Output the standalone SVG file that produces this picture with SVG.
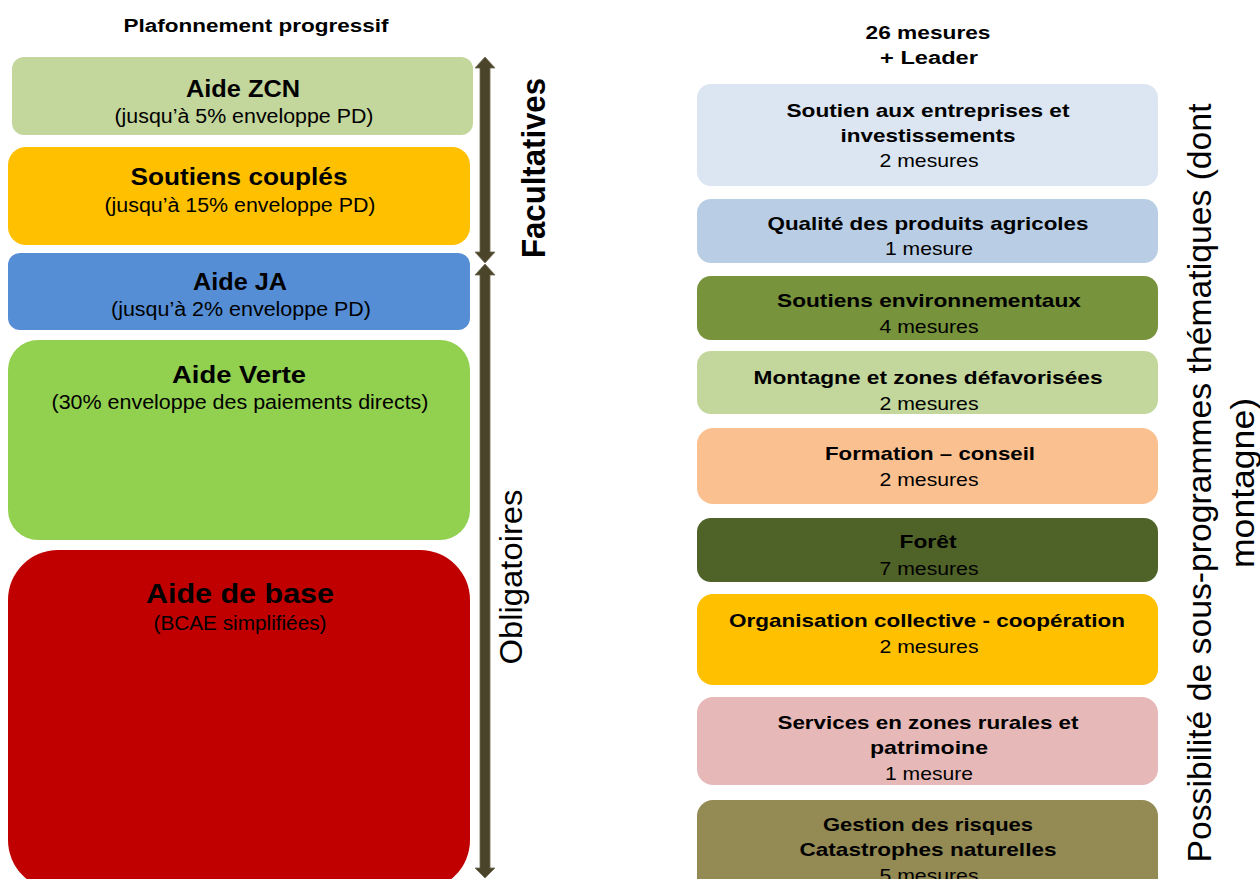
<svg xmlns="http://www.w3.org/2000/svg" width="1260" height="879" viewBox="0 0 1260 879">
<style>
text{font-family:"Liberation Sans",Arial,sans-serif;fill:#000;text-anchor:middle}
.t{font-weight:bold;font-size:24px}
.s{font-size:20px}
.h{font-weight:bold;font-size:18px}
.rt{font-weight:bold;font-size:19px}
.rs{font-size:19px}
.arrow{fill:#4A452A;stroke:#6E6A52;stroke-width:0.8}
</style>
<rect width="1260" height="879" fill="#fff"/>
<g id="headers">
<text class="h" x="256" y="32" textLength="265" lengthAdjust="spacingAndGlyphs">Plafonnement progressif</text>
<text class="h" x="928" y="39" textLength="125" lengthAdjust="spacingAndGlyphs">26 mesures</text>
<text class="h" x="929" y="64" textLength="98" lengthAdjust="spacingAndGlyphs">+ Leader</text>
</g>
<g id="aide-zcn">
<rect x="12" y="57" width="461" height="78" rx="12" fill="#C3D69B"/>
<text class="t" x="243" y="97" textLength="114" lengthAdjust="spacingAndGlyphs">Aide ZCN</text>
<text class="s" x="244" y="123" textLength="259" lengthAdjust="spacingAndGlyphs">(jusqu’à 5% enveloppe PD)</text>
</g>
<g id="soutiens-couples">
<rect x="8" y="147" width="462" height="98" rx="18" fill="#FFC000"/>
<text class="t" x="239" y="185" textLength="217" lengthAdjust="spacingAndGlyphs">Soutiens couplés</text>
<text class="s" x="240" y="212" textLength="271" lengthAdjust="spacingAndGlyphs">(jusqu’à 15% enveloppe PD)</text>
</g>
<g id="aide-ja">
<rect x="8" y="253" width="462" height="77" rx="12" fill="#558ED5"/>
<text class="t" x="240" y="290" textLength="94" lengthAdjust="spacingAndGlyphs">Aide JA</text>
<text class="s" x="241" y="316" textLength="260" lengthAdjust="spacingAndGlyphs">(jusqu’à 2% enveloppe PD)</text>
</g>
<g id="aide-verte">
<rect x="8" y="340" width="462" height="200" rx="30" fill="#92D050"/>
<text class="t" x="239" y="383" textLength="134" lengthAdjust="spacingAndGlyphs">Aide Verte</text>
<text class="s" x="240" y="409" textLength="377" lengthAdjust="spacingAndGlyphs">(30% enveloppe des paiements directs)</text>
</g>
<g id="aide-de-base">
<rect x="8" y="550" width="462" height="340" rx="50" fill="#C00000"/>
<text class="t" x="240" y="603" style="font-size:27px" textLength="188" lengthAdjust="spacingAndGlyphs">Aide de base</text>
<text class="s" x="240" y="630" textLength="173" lengthAdjust="spacingAndGlyphs">(BCAE simplifiées)</text>
</g>
<g id="connectors">
<path class="arrow" d="M485,57 L495,68 L490,68 L490,252 L495,252 L485,263 L475,252 L480,252 L480,68 L475,68 Z"/>
<path class="arrow" d="M485,264 L495,275 L490,275 L490,868 L495,868 L485,878 L475,868 L480,868 L480,275 L475,275 Z"/>
</g>
<g id="label-facultatives">
<text transform="translate(545,168) rotate(-90)" style="font-weight:bold;font-size:34px" textLength="180" lengthAdjust="spacingAndGlyphs">Facultatives</text>
</g>
<g id="label-obligatoires">
<text transform="translate(522,577) rotate(-90)" style="font-size:31px" textLength="175" lengthAdjust="spacingAndGlyphs">Obligatoires</text>
</g>
<g id="r1">
<rect x="697" y="84" width="461" height="102" rx="14" fill="#DCE6F2"/>
<text class="rt" x="928" y="117" textLength="283" lengthAdjust="spacingAndGlyphs">Soutien aux entreprises et</text>
<text class="rt" x="928" y="142" textLength="175" lengthAdjust="spacingAndGlyphs">investissements</text>
<text class="rs" x="929" y="167" textLength="99" lengthAdjust="spacingAndGlyphs">2 mesures</text>
</g>
<g id="r2">
<rect x="697" y="199" width="461" height="64" rx="14" fill="#B9CDE5"/>
<text class="rt" x="928" y="230" textLength="321" lengthAdjust="spacingAndGlyphs">Qualité des produits agricoles</text>
<text class="rs" x="929" y="255" textLength="88" lengthAdjust="spacingAndGlyphs">1 mesure</text>
</g>
<g id="r3">
<rect x="697" y="276" width="461" height="64" rx="14" fill="#77933C"/>
<text class="rt" x="929" y="307" textLength="304" lengthAdjust="spacingAndGlyphs">Soutiens environnementaux</text>
<text class="rs" x="929" y="333" textLength="99" lengthAdjust="spacingAndGlyphs">4 mesures</text>
</g>
<g id="r4">
<rect x="697" y="351" width="461" height="63" rx="14" fill="#C3D69B"/>
<text class="rt" x="928" y="384" textLength="349" lengthAdjust="spacingAndGlyphs">Montagne et zones défavorisées</text>
<text class="rs" x="929" y="410" textLength="99" lengthAdjust="spacingAndGlyphs">2 mesures</text>
</g>
<g id="r5">
<rect x="697" y="428" width="461" height="76" rx="16" fill="#FAC090"/>
<text class="rt" x="930" y="460" textLength="210" lengthAdjust="spacingAndGlyphs">Formation – conseil</text>
<text class="rs" x="929" y="486" textLength="99" lengthAdjust="spacingAndGlyphs">2 mesures</text>
</g>
<g id="r6">
<rect x="697" y="518" width="461" height="64" rx="14" fill="#4F6228"/>
<text class="rt" x="928" y="548" textLength="57" lengthAdjust="spacingAndGlyphs">Forêt</text>
<text class="rs" x="929" y="575" textLength="99" lengthAdjust="spacingAndGlyphs">7 mesures</text>
</g>
<g id="r7">
<rect x="697" y="594" width="461" height="91" rx="16" fill="#FFC000"/>
<text class="rt" x="927" y="627" textLength="396" lengthAdjust="spacingAndGlyphs">Organisation collective - coopération</text>
<text class="rs" x="929" y="653" textLength="99" lengthAdjust="spacingAndGlyphs">2 mesures</text>
</g>
<g id="r8">
<rect x="697" y="697" width="461" height="88" rx="16" fill="#E6B9B8"/>
<text class="rt" x="928" y="729" textLength="301" lengthAdjust="spacingAndGlyphs">Services en zones rurales et</text>
<text class="rt" x="929" y="754" textLength="118" lengthAdjust="spacingAndGlyphs">patrimoine</text>
<text class="rs" x="929" y="780" textLength="88" lengthAdjust="spacingAndGlyphs">1 mesure</text>
</g>
<g id="r9">
<rect x="697" y="800" width="461" height="100" rx="16" fill="#948A54"/>
<text class="rt" x="928" y="831" textLength="210" lengthAdjust="spacingAndGlyphs">Gestion des risques</text>
<text class="rt" x="928" y="856" textLength="257" lengthAdjust="spacingAndGlyphs">Catastrophes naturelles</text>
<text class="rs" x="929" y="882" textLength="99" lengthAdjust="spacingAndGlyphs">5 mesures</text>
</g>
<g id="label-sous-programmes">
<text transform="translate(1211,483) rotate(-90)" style="font-size:33px" textLength="759" lengthAdjust="spacingAndGlyphs">Possibilité de sous-programmes thématiques  (dont</text>
<text transform="translate(1254,483) rotate(-90)" style="font-size:33px" textLength="170" lengthAdjust="spacingAndGlyphs">montagne)</text>
</g>
</svg>
